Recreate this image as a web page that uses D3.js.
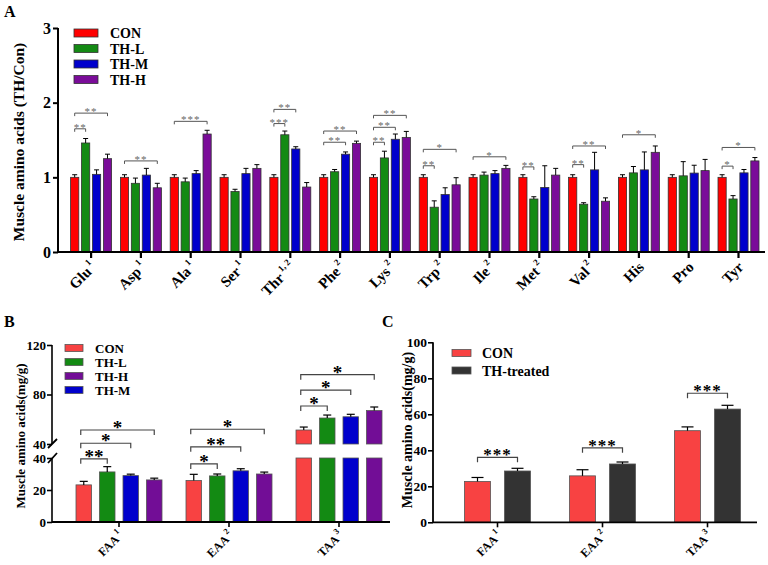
<!DOCTYPE html>
<html><head><meta charset="utf-8">
<script src="https://cdn.jsdelivr.net/npm/d3@7"></script>
<style>body{margin:0;background:#fff} svg{display:block} text{font-family:"Liberation Serif","Times New Roman",serif}</style>
</head><body><svg id="c" width="768" height="565"></svg>
<script>
// ---------- Panel A data ----------
const aaCats = ["Glu","Asp","Ala","Ser","Thr","Phe","Lys","Trp","Ile","Met","Val","His","Pro","Tyr"];
const aaSup  = ["1","1","1","1","1, 2","2","2","2","2","2","2","","",""];
const groupsA = ["CON","TH-L","TH-M","TH-H"];
const aCON    = [1,1,1,1,1,1,1,1,1,1,1,1,1,1];
const aCONerr = [0.035,0.035,0.035,0.035,0.035,0.035,0.035,0.035,0.035,0.035,0.035,0.035,0.035,0.035];
const aTHL    = [1.46,0.92,0.94,0.81,1.57,1.075,1.26,0.60,1.03,0.71,0.64,1.06,1.02,0.71];
const aTHLerr = [0.06,0.07,0.05,0.03,0.05,0.03,0.09,0.085,0.04,0.03,0.02,0.085,0.19,0.045];
const aTHM    = [1.04,1.03,1.05,1.05,1.38,1.31,1.51,0.77,1.05,0.865,1.10,1.10,1.057,1.06];
const aTHMerr = [0.06,0.09,0.04,0.07,0.03,0.03,0.07,0.09,0.04,0.29,0.235,0.24,0.105,0.045];
const aTHH    = [1.25,0.86,1.58,1.12,0.87,1.455,1.535,0.90,1.12,1.03,0.68,1.335,1.09,1.22];
const aTHHerr = [0.06,0.06,0.05,0.05,0.06,0.03,0.08,0.095,0.04,0.09,0.045,0.085,0.15,0.045];
const yTicksA = [0,1,2,3];
// significance: [category index, group from, group to, bracket level, label]
const sigA = [
  [0,0,1,1.65,"**"],[0,0,3,1.86,"**"],
  [1,0,3,1.22,"**"],
  [2,0,3,1.75,"***"],
  [4,0,1,1.72,"***"],[4,0,2,1.91,"**"],
  [5,0,2,1.47,"**"],[5,0,3,1.62,"**"],
  [6,0,1,1.47,"**"],[6,0,2,1.67,"**"],[6,0,3,1.83,"**"],
  [7,0,1,1.155,"**"],[7,0,3,1.375,"*"],
  [8,0,3,1.275,"*"],
  [9,0,1,1.14,"**"],
  [10,0,1,1.17,"**"],[10,0,3,1.42,"**"],
  [11,0,3,1.57,"*"],
  [13,0,1,1.15,"*"],[13,0,3,1.40,"*"]
];

// ---------- Panel B data ----------
const totCats = ["FAA","EAA","TAA"];
const totSup  = ["1","2","3"];
const groupsB = ["CON","TH-L","TH-M","TH-H"];
const legendB = ["CON","TH-L","TH-H","TH-M"];
const bCON    = [23.2,26.0,51.3];
const bCONerr = [2.2,3.8,2.4];
const bTHL    = [31.3,28.8,61.0];
const bTHLerr = [3.3,1.2,2.4];
const bTHM    = [29.0,32.0,62.0];
const bTHMerr = [0.9,1.3,2.0];
const bTHH    = [26.3,30.0,67.0];
const bTHHerr = [1.1,1.2,2.9];
const yTicksBLow = [0,20,40];
const yTicksBUp  = [40,80,120];
// [cat, from, to, level, segment, label]
const sigB = [
  [0,0,1,39.5,"low","**"],[0,0,2,40.6,"up","*"],[0,0,3,51.3,"up","*"],
  [1,0,1,36.3,"low","*"],[1,0,2,47.0,"low","**"],[1,0,3,51.9,"up","*"],
  [2,0,1,70.7,"up","*"],[2,0,2,83.6,"up","*"],[2,0,3,96.0,"up","*"]
];

// ---------- Panel C data ----------
const groupsC = ["CON","TH-treated"];
const cCON    = [22.7,25.8,50.9];
const cCONerr = [2.2,3.4,2.1];
const cTH     = [28.5,32.4,62.9];
const cTHerr  = [1.5,1.1,2.1];
const yTicksC = [0,20,40,60,80,100];
const sigC = [[0,0,1,36.1,"***"],[1,0,1,41.4,"***"],[2,0,1,71.7,"***"]];

// ---------- drawing ----------
const svg = d3.select("#c");
const FONT = '"Liberation Serif","Times New Roman",serif';

function bracket(g, x1, x2, y, tick, color, sw){
  g.append("path").attr("d",`M${x1},${y+tick}V${y}H${x2}V${y+tick}`)
   .attr("fill","none").attr("stroke",color).attr("stroke-width",sw);
}
function errBar(g, x, y0, y1, cap, sw){
  g.append("line").attr("x1",x).attr("x2",x).attr("y1",y0).attr("y2",y1).attr("stroke","#000").attr("stroke-width",sw);
  g.append("line").attr("x1",x-cap/2).attr("x2",x+cap/2).attr("y1",y1).attr("y2",y1).attr("stroke","#000").attr("stroke-width",sw);
}
function rotLabel(g, x, y, main, sup, size, weight, supScale){
  const t = g.append("text").attr("transform",`translate(${x},${y}) rotate(-45)`)
    .attr("text-anchor","end").attr("font-size",size).attr("font-weight",weight);
  t.append("tspan").text(main);
  if(sup){ t.append("tspan").attr("font-size",size*supScale).attr("dy",-size*0.5).attr("dx",size*0.15).text(sup); }
}

// ===== Panel A =====
(function(){
  const g = svg.append("g");
  const colors = ["#ff0000","#148a14","#0000cc","#7a0c99"];
  const series = [[aCON,aCONerr],[aTHL,aTHLerr],[aTHM,aTHMerr],[aTHH,aTHHerr]];
  const y = d3.scaleLinear().domain([0,3]).range([252,28]);
  const x = d3.scaleBand().domain(aaCats).range([66.2,763.4]).padding(0);
  const xs = d3.scaleBand().domain(groupsA).range([-20.5,20.5]).paddingInner(0.25);
  aaCats.forEach((c,i)=>{
    const cx = x(c)+x.bandwidth()/2;
    groupsA.forEach((gr,k)=>{
      const v = series[k][0][i], e = series[k][1][i];
      const bx = cx + xs(gr);
      g.append("rect").attr("x",bx).attr("y",y(v)).attr("width",xs.bandwidth()).attr("height",y(0)-y(v))
        .attr("fill",colors[k]).attr("stroke","#333").attr("stroke-width",0.8);
      errBar(g, bx+xs.bandwidth()/2, y(v), y(v+e), 5, 1);
    });
  });
  sigA.forEach(s=>{
    const cx = x(aaCats[s[0]])+x.bandwidth()/2;
    const x1 = cx + xs(groupsA[s[1]]) + xs.bandwidth()/2;
    const x2 = cx + xs(groupsA[s[2]]) + xs.bandwidth()/2;
    const yy = y(s[3]);
    bracket(g, x1, x2, yy, 3, "#555", 1);
    g.append("text").attr("x",(x1+x2)/2).attr("y",yy+2).attr("text-anchor","middle")
      .attr("font-size",11).attr("fill","#666").attr("letter-spacing",1).text(s[4]);
  });
  // axes
  const ya = g.append("g").attr("transform","translate(58,0)")
    .call(d3.axisLeft(y).tickValues(yTicksA).tickSize(5).tickFormat(d3.format("d")));
  ya.select(".domain").attr("stroke-width",2).attr("d","M-0,28V252");
  ya.selectAll(".tick line").attr("stroke-width",2);
  ya.selectAll(".tick text").attr("font-family",FONT).attr("font-size",16).attr("font-weight","bold").attr("x",-7);
  const xa = g.append("g").attr("transform","translate(0,252)")
    .call(d3.axisBottom(x).tickSize(6).tickFormat(""));
  xa.select(".domain").attr("stroke-width",2).attr("d","M58,0H765");
  xa.selectAll(".tick line").attr("stroke-width",2.2);
  aaCats.forEach((c,i)=>{
    rotLabel(g, x(c)+x.bandwidth()/2+6, 268, c, aaSup[i], 15, "bold", 0.6);
  });
  // legend
  groupsA.forEach((gr,k)=>{
    const ly = 33 + k*15.5;
    g.append("rect").attr("x",74).attr("y",ly-4).attr("width",24).attr("height",8)
      .attr("fill",colors[k]).attr("stroke","#333").attr("stroke-width",0.8);
    g.append("text").attr("x",110).attr("y",ly+5).attr("font-size",14).attr("font-weight","bold").text(gr);
  });
  g.append("text").attr("transform","translate(24,142) rotate(-90)").attr("text-anchor","middle")
    .attr("font-size",15.5).attr("font-weight","bold").text("Muscle amino acids (TH/Con)");
  g.append("text").attr("x",4).attr("y",17).attr("font-size",16).attr("font-weight","bold").text("A");
})();

// ===== Panel B =====
(function(){
  const g = svg.append("g");
  const colors = ["#f84242","#138a13","#0000cc","#720d96"];
  const legColors = ["#f84242","#138a13","#720d96","#0000cc"];
  const series = [[bCON,bCONerr],[bTHL,bTHLerr],[bTHM,bTHMerr],[bTHH,bTHHerr]];
  const yLow = d3.scaleLinear().domain([0,40]).range([522,458]);
  const yUp  = d3.scaleLinear().domain([40,120]).range([444,345]);
  const yB = v => v<=40 ? yLow(v) : yUp(v);
  const x = d3.scaleBand().domain(totCats).range([64,394]).padding(0);
  const xs = d3.scaleBand().domain(groupsB).range([-43,43]).paddingInner(0.34);
  totCats.forEach((c,i)=>{
    const cx = x(c)+x.bandwidth()/2;
    groupsB.forEach((gr,k)=>{
      const v = series[k][0][i], e = series[k][1][i];
      const bx = cx + xs(gr), w = xs.bandwidth();
      if(v<=40){
        g.append("rect").attr("x",bx).attr("y",yLow(v)).attr("width",w).attr("height",yLow(0)-yLow(v))
          .attr("fill",colors[k]).attr("stroke","#555").attr("stroke-width",0.8);
      } else {
        g.append("rect").attr("x",bx).attr("y",yLow(40)).attr("width",w).attr("height",yLow(0)-yLow(40))
          .attr("fill",colors[k]).attr("stroke","#555").attr("stroke-width",0.8);
        g.append("rect").attr("x",bx).attr("y",yUp(v)).attr("width",w).attr("height",yUp(40)-yUp(v))
          .attr("fill",colors[k]).attr("stroke","#555").attr("stroke-width",0.8);
      }
      errBar(g, bx+w/2, yB(v), yB(v+e), 8, 1.2);
    });
  });
  sigB.forEach(s=>{
    const cx = x(totCats[s[0]])+x.bandwidth()/2;
    const x1 = cx + xs(groupsB[s[1]]) + xs.bandwidth()/2 - 3;
    const x2 = cx + xs(groupsB[s[2]]) + xs.bandwidth()/2;
    const yy = s[4]==="low" ? yLow(s[3]) : yUp(s[3]);
    bracket(g, x1, x2, yy, 5, "#444", 1.2);
    g.append("text").attr("x",(x1+x2)/2).attr("y",yy+4).attr("text-anchor","middle")
      .attr("font-size",19).attr("font-weight","bold").attr("fill","#000").text(s[5]);
  });
  // axes
  const yl = g.append("g").attr("transform","translate(52,0)")
    .call(d3.axisLeft(yLow).tickValues(yTicksBLow).tickSize(5));
  const yu = g.append("g").attr("transform","translate(52,0)")
    .call(d3.axisLeft(yUp).tickValues(yTicksBUp).tickSize(5));
  [yl,yu].forEach(a=>{
    a.select(".domain").attr("stroke-width",1.6);
    a.selectAll(".tick line").attr("stroke-width",1.6);
    a.selectAll(".tick text").attr("font-family",FONT).attr("font-size",13).attr("font-weight","bold").attr("x",-6);
  });
  yl.select(".domain").attr("d","M0,458V522");
  yu.select(".domain").attr("d","M0,345V444");
  // break marks
  g.append("line").attr("x1",48).attr("y1",448).attr("x2",57).attr("y2",439).attr("stroke","#000").attr("stroke-width",1.8);
  g.append("line").attr("x1",48).attr("y1",463).attr("x2",57).attr("y2",453).attr("stroke","#000").attr("stroke-width",1.8);
  const xa = g.append("g").attr("transform","translate(0,522)")
    .call(d3.axisBottom(x).tickSize(5).tickFormat(""));
  xa.select(".domain").attr("stroke-width",1.8).attr("d","M52,0H390");
  xa.selectAll(".tick line").attr("stroke-width",1.6);
  totCats.forEach((c,i)=>{
    rotLabel(g, x(c)+x.bandwidth()/2+5, 536, c, totSup[i], 12, "bold", 0.7);
  });
  legendB.forEach((gr,k)=>{
    const ly = 348 + k*14;
    g.append("rect").attr("x",65).attr("y",ly-3.5).attr("width",18).attr("height",7)
      .attr("fill",legColors[k]).attr("stroke","#555").attr("stroke-width",0.8);
    g.append("text").attr("x",95).attr("y",ly+4.5).attr("font-size",13).attr("font-weight","bold").text(gr);
  });
  g.append("text").attr("transform","translate(25,436) rotate(-90)").attr("text-anchor","middle")
    .attr("font-size",13).attr("font-weight","bold").text("Muscle amino acids(mg/g)");
  g.append("text").attr("x",4).attr("y",327).attr("font-size",16).attr("font-weight","bold").text("B");
})();

// ===== Panel C =====
(function(){
  const g = svg.append("g");
  const colors = ["#f84242","#333333"];
  const series = [[cCON,cCONerr],[cTH,cTHerr]];
  const y = d3.scaleLinear().domain([0,100]).range([522.3,342.3]);
  const x = d3.scaleBand().domain(totCats).range([445,760]).padding(0);
  const xs = d3.scaleBand().domain(groupsC).range([-33,33]).paddingInner(0.35);
  totCats.forEach((c,i)=>{
    const cx = x(c)+x.bandwidth()/2;
    groupsC.forEach((gr,k)=>{
      const v = series[k][0][i], e = series[k][1][i];
      const bx = cx + xs(gr), w = xs.bandwidth();
      g.append("rect").attr("x",bx).attr("y",y(v)).attr("width",w).attr("height",y(0)-y(v))
        .attr("fill",colors[k]).attr("stroke","#555").attr("stroke-width",0.8);
      errBar(g, bx+w/2, y(v), y(v+e), 12, 1.2);
    });
  });
  sigC.forEach(s=>{
    const cx = x(totCats[s[0]])+x.bandwidth()/2;
    const x1 = cx + xs(groupsC[s[1]]) + xs.bandwidth()/2;
    const x2 = cx + xs(groupsC[s[2]]) + xs.bandwidth()/2;
    const yy = y(s[3]);
    bracket(g, x1, x2, yy, 5, "#444", 1.2);
    g.append("text").attr("x",(x1+x2)/2).attr("y",yy+3).attr("text-anchor","middle")
      .attr("font-size",17).attr("font-weight","bold").attr("letter-spacing",1).text(s[4]);
  });
  const ya = g.append("g").attr("transform","translate(433,0)")
    .call(d3.axisLeft(y).tickValues(yTicksC).tickSize(5));
  ya.select(".domain").attr("stroke-width",1.8).attr("d","M0,342.3V522.3");
  ya.selectAll(".tick line").attr("stroke-width",1.6);
  ya.selectAll(".tick text").attr("font-family",FONT).attr("font-size",13.5).attr("font-weight","bold").attr("x",-6);
  const xa = g.append("g").attr("transform","translate(0,522.3)")
    .call(d3.axisBottom(x).tickSize(5).tickFormat(""));
  xa.select(".domain").attr("stroke-width",1.8).attr("d","M433,0H757");
  xa.selectAll(".tick line").attr("stroke-width",1.6);
  totCats.forEach((c,i)=>{
    rotLabel(g, x(c)+x.bandwidth()/2+5, 536, c, totSup[i], 12, "bold", 0.7);
  });
  groupsC.forEach((gr,k)=>{
    const ly = 353 + k*17.5;
    g.append("rect").attr("x",452).attr("y",ly-3.5).attr("width",19).attr("height",7)
      .attr("fill",colors[k]).attr("stroke","#555").attr("stroke-width",0.8);
    g.append("text").attr("x",482).attr("y",ly+5).attr("font-size",14).attr("font-weight","bold").text(gr);
  });
  g.append("text").attr("transform","translate(412,430) rotate(-90)").attr("text-anchor","middle")
    .attr("font-size",14).attr("font-weight","bold").text("Muscle amino acids(mg/g)");
  g.append("text").attr("x",382).attr("y",327).attr("font-size",16).attr("font-weight","bold").text("C");
})();
</script></body></html>
